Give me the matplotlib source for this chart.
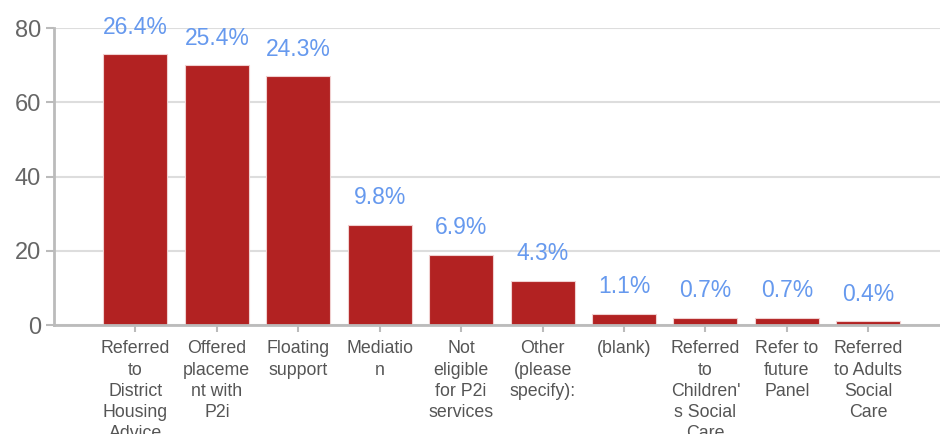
import matplotlib.pyplot as plt

plt.rcParams["font.family"] = ["Liberation Sans", "DejaVu Sans"]

categories = [
    "Referred\nto\nDistrict\nHousing\nAdvice",
    "Offered\nplaceme\nnt with\nP2i",
    "Floating\nsupport",
    "Mediatio\nn",
    "Not\neligible\nfor P2i\nservices",
    "Other\n(please\nspecify):",
    "(blank)",
    "Referred\nto\nChildren'\ns Social\nCare",
    "Refer to\nfuture\nPanel",
    "Referred\nto Adults\nSocial\nCare",
]
counts = [73, 70, 67, 27, 19, 12, 3, 2, 2, 1]
pct_labels = ["26.4%", "25.4%", "24.3%", "9.8%", "6.9%", "4.3%", "1.1%", "0.7%", "0.7%", "0.4%"]

fig = plt.figure(figsize=(9.4, 4.34), dpi=100)
ax = fig.add_axes([0.0574, 0.251, 0.9426, 0.684])

x = range(len(categories))
ax.bar(x, counts, width=0.785, color="#b22222", edgecolor="#f0d0d0", linewidth=0.8, zorder=3)

for xi, c, lab in zip(x, counts, pct_labels):
    ax.annotate(lab, (xi, c), xytext=(0, 19.5), textcoords="offset points",
                ha="center", va="center", fontsize=16.5, color="#6699ee")

ax.set_xlim(-1, 9.88)
ax.set_ylim(0, 80)
ax.set_yticks([0, 20, 40, 60, 80])
ax.set_xticks(list(x))
ax.set_xticklabels(categories, fontsize=12.8, color="#555555", linespacing=1.32,
                   va="top")
ax.tick_params(axis="y", labelsize=17, labelcolor="#666666", color="#bbbbbb", length=6, width=1.5)
ax.tick_params(axis="x", color="#bbbbbb", length=5, width=1.5, pad=6)

ax.grid(axis="y", color="#dddddd", linewidth=1.5, zorder=0)
for side in ["top", "right"]:
    ax.spines[side].set_visible(False)
for side in ["left", "bottom"]:
    ax.spines[side].set_color("#bbbbbb")
    ax.spines[side].set_linewidth(2)
ax.spines["bottom"].set_zorder(4)

fig.savefig("out.png", dpi=100)
